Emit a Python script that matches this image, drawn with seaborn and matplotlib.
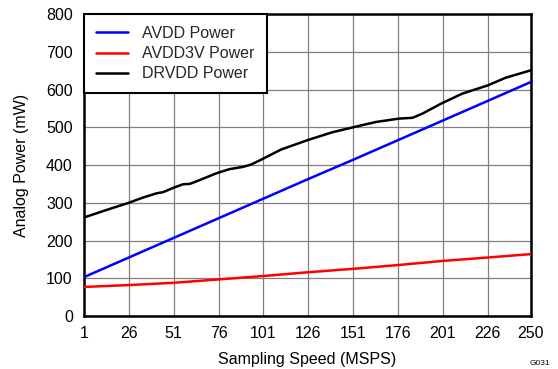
import numpy as np
import pandas as pd
import matplotlib
matplotlib.use('Agg')
import matplotlib.pyplot as plt
import seaborn as sns

# values
speed_ticks = [1, 26, 51, 76, 101, 126, 151, 176, 201, 226, 250]
avdd = [103, 155, 207, 259, 311, 363, 414, 466, 518, 570, 620]
avdd3v = [77, 82, 88, 97, 106, 116, 125, 135, 146, 155, 164]

drvdd_speed = [1, 13.6, 26, 34, 41.4, 45, 51, 56.2, 60, 65.4, 74.7, 82, 89.5, 94, 98.8,
               110.8, 125.6, 139.5, 151, 163.6, 176.6, 184, 189.5, 199.7, 211.7, 226, 235.8, 250]
drvdd = [261, 281, 300, 314, 325, 328, 340, 349, 350, 360, 378, 389, 395, 401, 412,
         441, 466, 487, 500, 514, 523, 525, 536, 562, 589, 611, 631, 651]

y_ticks = list(range(0, 801, 100))

df = pd.concat([
    pd.DataFrame({'speed': speed_ticks, 'power': avdd, 'rail': 'AVDD Power'}),
    pd.DataFrame({'speed': speed_ticks, 'power': avdd3v, 'rail': 'AVDD3V Power'}),
    pd.DataFrame({'speed': drvdd_speed, 'power': drvdd, 'rail': 'DRVDD Power'}),
])

sns.set_theme(style='white')
plt.rcParams['font.family'] = ['Liberation Sans', 'DejaVu Sans']

fig = plt.figure(figsize=(5.58, 3.69), dpi=100)
ax = fig.add_axes([0.1505, 0.1436, 0.801, 0.8184])

sns.lineplot(data=df, x='speed', y='power', hue='rail',
             palette={'AVDD Power': '#0000ff', 'AVDD3V Power': '#ff0000', 'DRVDD Power': '#000000'},
             linewidth=1.8, ax=ax, zorder=3)

ax.set_xlim(1, 250)
ax.set_ylim(0, 800)
ax.set_xticks(speed_ticks)
ax.set_yticks(y_ticks)
ax.tick_params(axis='both', labelsize=11.5, length=0, colors='black')
ax.tick_params(axis='y', pad=8)
ax.tick_params(axis='x', pad=7)
ax.grid(True, color='#808080', linewidth=0.9)
for s in ax.spines.values():
    s.set_visible(True)
    s.set_color('black')
    s.set_linewidth(1.8)

ax.set_xlabel('Sampling Speed (MSPS)', fontsize=11.5, color='black', labelpad=8)
ax.set_ylabel('Analog Power (mW)', fontsize=11.5, color='black', labelpad=12)

leg = ax.legend(loc='upper left', fontsize=11.5, frameon=True, fancybox=False,
                handlelength=2.0, handletextpad=0.9, borderaxespad=0,
                borderpad=0.75, labelspacing=0.32)
leg.set_title(None)
leg.get_frame().set_edgecolor('black')
leg.get_frame().set_linewidth(1.5)
leg.get_frame().set_alpha(1)

fig.text(0.987, 0.005, 'G031', fontsize=6, ha='right', va='bottom', color='black')

fig.savefig('out.png', dpi=100)
